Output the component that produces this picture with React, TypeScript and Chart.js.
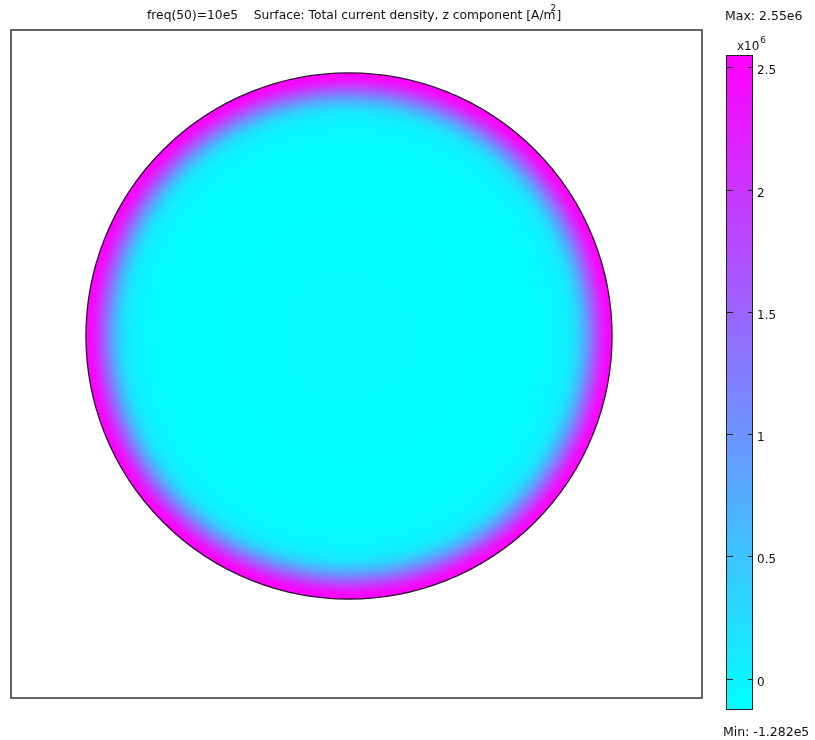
import React, { useEffect, useRef } from "react";
import { Chart, registerables } from "chart.js";
Chart.register(...registerables);

// ---- data ----
const titleLeft = "freq(50)=10e5    Surface: Total current density, z component [A/m";
const titleSup = "2";
const titleRight = "]";
// radial profile of J_z (normalized radius -> value in 1e6 A/m^2)
const profileRadius = [0, 0.3, 0.5, 0.6, 0.7, 0.76, 0.8, 0.83, 0.85, 0.87, 0.9, 0.93, 0.96, 0.98, 1.0];
const profileValue = [-0.06, -0.09, -0.12, -0.128, -0.11, -0.07, -0.02, 0.05, 0.14, 0.36, 0.85, 1.5, 2.15, 2.45, 2.55];
const cbMin = -0.1282;
const cbMax = 2.55;
const cbTicks = [0, 0.5, 1, 1.5, 2, 2.5];
const cbTickLabels = ["0", "0.5", "1", "1.5", "2", "2.5"];
const maxLabel = "Max: 2.55e6";
const minLabel = "Min: -1.282e5";
const xRange = [-1.285, 1.342];
const yRange = [-1.376, 1.163];
const circleCenter = [0, 0];
const circleRadius = 1;

const FONT = "'DejaVu Sans', Verdana, sans-serif";

function coolColor(v: number): string {
  let t = (v - cbMin) / (cbMax - cbMin);
  t = Math.max(0, Math.min(1, t));
  const r = Math.round(255 * t);
  const g = Math.round(255 * (1 - t));
  return `rgb(${r},${g},255)`;
}

const surfacePlugin = {
  id: "surface",
  afterDraw(chart: any) {
    const { ctx, chartArea: a, scales } = chart;
    const x = scales.x, y = scales.y;
    const cx = x.getPixelForValue(circleCenter[0]);
    const cy = y.getPixelForValue(circleCenter[1]);
    const R = x.getPixelForValue(circleCenter[0] + circleRadius) - cx;
    ctx.save();
    const g = ctx.createRadialGradient(cx, cy, 0, cx, cy, R);
    profileRadius.forEach((r, i) => g.addColorStop(r, coolColor(profileValue[i])));
    ctx.beginPath();
    ctx.arc(cx, cy, R, 0, Math.PI * 2);
    ctx.fillStyle = g;
    ctx.fill();
    ctx.lineWidth = 1.3;
    ctx.strokeStyle = "#2a1030";
    ctx.stroke();
    // frame
    ctx.lineWidth = 1.5;
    ctx.strokeStyle = "#333";
    ctx.strokeRect(a.left, a.top, a.right - a.left, a.bottom - a.top);
    // title
    ctx.fillStyle = "#111";
    ctx.textBaseline = "alphabetic";
    ctx.textAlign = "left";
    ctx.font = `12.3px ${FONT}`;
    const tx = 147, ty = 19;
    ctx.fillText(titleLeft, tx, ty);
    const w1 = ctx.measureText(titleLeft).width;
    ctx.font = `9px ${FONT}`;
    ctx.fillText(titleSup, tx + w1 - 5, ty - 8);
    ctx.font = `12.3px ${FONT}`;
    ctx.fillText(titleRight, tx + w1 + 1, ty);
    ctx.restore();
  },
};

const colorbarPlugin = {
  id: "colorbar",
  afterDraw(chart: any) {
    const { ctx, chartArea: a, scales } = chart;
    const y = scales.y;
    ctx.save();
    ctx.lineWidth = 1;
    ctx.strokeStyle = "#222";
    ctx.strokeRect(a.left + 0.5, a.top + 0.5, a.right - a.left - 1, a.bottom - a.top - 1);
    ctx.fillStyle = "#111";
    ctx.font = `12px ${FONT}`;
    ctx.textAlign = "left";
    ctx.textBaseline = "middle";
    cbTicks.forEach((t, i) => {
      const py = Math.round(y.getPixelForValue(t)) + 0.5;
      ctx.beginPath();
      ctx.moveTo(a.left, py);
      ctx.lineTo(a.left + 7, py);
      ctx.moveTo(a.right - 5, py);
      ctx.lineTo(a.right, py);
      ctx.stroke();
      ctx.fillText(cbTickLabels[i], a.right + 4, py + 3);
    });
    // multiplier
    ctx.textBaseline = "alphabetic";
    ctx.fillText("x10", a.left + 11, a.top - 5);
    const w = ctx.measureText("x10").width;
    ctx.font = `9px ${FONT}`;
    ctx.fillText("6", a.left + 11 + w + 1, a.top - 12);
    ctx.font = `12.5px ${FONT}`;
    ctx.fillText(maxLabel, 25, 20);
    ctx.fillText(minLabel, 23, 736);
    ctx.restore();
  },
};

export default function App() {
  const mainRef = useRef<HTMLCanvasElement>(null);
  const cbRef = useRef<HTMLCanvasElement>(null);

  useEffect(() => {
    const main = new Chart(mainRef.current!, {
      type: "scatter",
      data: { datasets: [{ data: [], pointRadius: 0 }] },
      options: {
        responsive: false,
        animation: false,
        devicePixelRatio: 1,
        layout: { padding: { left: 11, top: 30, right: 815 - 702, bottom: 740 - 698 } },
        plugins: { legend: { display: false }, tooltip: { enabled: false }, title: { display: false } },
        scales: {
          x: { type: "linear", min: xRange[0], max: xRange[1], display: false },
          y: { type: "linear", min: yRange[0], max: yRange[1], display: false },
        },
      },
      plugins: [surfacePlugin],
    } as any);

    const cb = new Chart(cbRef.current!, {
      type: "bar",
      data: {
        labels: ["J"],
        datasets: [
          {
            data: [[cbMin, cbMax]] as any,
            barPercentage: 1,
            categoryPercentage: 1,
            borderWidth: 0,
            backgroundColor: (c: any) => {
              const chart = c.chart;
              if (!chart.chartArea) return coolColor(0);
              const ys = chart.scales.y;
              const g = chart.ctx.createLinearGradient(0, ys.getPixelForValue(cbMin), 0, ys.getPixelForValue(cbMax));
              g.addColorStop(0, coolColor(cbMin));
              g.addColorStop(1, coolColor(cbMax));
              return g;
            },
          },
        ],
      },
      options: {
        responsive: false,
        animation: false,
        devicePixelRatio: 1,
        layout: { padding: { left: 26, top: 55, right: 115 - 53, bottom: 740 - 710 } },
        plugins: { legend: { display: false }, tooltip: { enabled: false } },
        scales: {
          x: { display: false },
          y: { min: cbMin, max: cbMax, display: false },
        },
      },
      plugins: [colorbarPlugin],
    } as any);

    return () => {
      main.destroy();
      cb.destroy();
    };
  }, []);

  return (
    <div style={{ position: "fixed", left: 0, top: 0, width: 815, height: 740, background: "#fff" }}>
      <canvas ref={mainRef} width={815} height={740} style={{ position: "absolute", left: 0, top: 0 }} />
      <canvas ref={cbRef} width={115} height={740} style={{ position: "absolute", left: 700, top: 0 }} />
    </div>
  );
}
